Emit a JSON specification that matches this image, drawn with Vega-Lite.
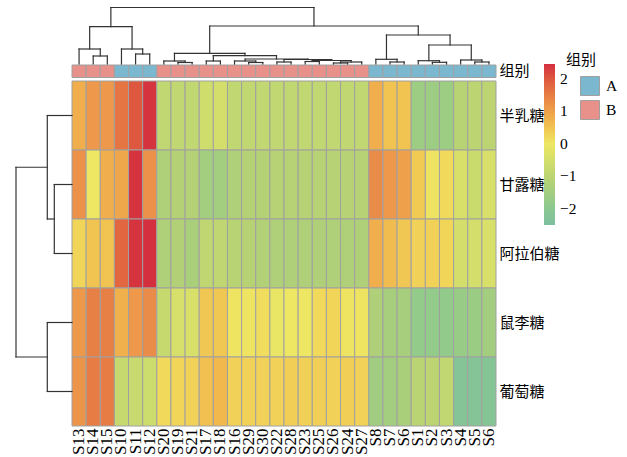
{
  "$schema": "https://vega.github.io/schema/vega-lite/v6.json",
  "width": 424,
  "height": 345,
  "autosize": {"type": "none"},
  "padding": {"left": 72, "top": 81, "right": 131, "bottom": 31},
  "config": {
    "view": {"stroke": null},
    "font": "Liberation Serif",
    "axisX": {"labelFont": "Liberation Serif", "labelFontSize": 17, "labelColor": "#000000"}
  },
  "datasets": {
    "heat": [
      {"sample": "S13", "sugar": "半乳糖", "value": 0.8}, {"sample": "S13", "sugar": "甘露糖", "value": 1.2}, {"sample": "S13", "sugar": "阿拉伯糖", "value": 0.25}, {"sample": "S13", "sugar": "鼠李糖", "value": 1.1}, {"sample": "S13", "sugar": "葡萄糖", "value": 1.15},
      {"sample": "S14", "sugar": "半乳糖", "value": 1.1}, {"sample": "S14", "sugar": "甘露糖", "value": 0.0}, {"sample": "S14", "sugar": "阿拉伯糖", "value": 0.5}, {"sample": "S14", "sugar": "鼠李糖", "value": 1.45}, {"sample": "S14", "sugar": "葡萄糖", "value": 1.5},
      {"sample": "S15", "sugar": "半乳糖", "value": 1.1}, {"sample": "S15", "sugar": "甘露糖", "value": 0.8}, {"sample": "S15", "sugar": "阿拉伯糖", "value": 0.5}, {"sample": "S15", "sugar": "鼠李糖", "value": 1.45}, {"sample": "S15", "sugar": "葡萄糖", "value": 1.5},
      {"sample": "S10", "sugar": "半乳糖", "value": 1.6}, {"sample": "S10", "sugar": "甘露糖", "value": 0.9}, {"sample": "S10", "sugar": "阿拉伯糖", "value": 1.8}, {"sample": "S10", "sugar": "鼠李糖", "value": 0.75}, {"sample": "S10", "sugar": "葡萄糖", "value": -0.8},
      {"sample": "S11", "sugar": "半乳糖", "value": 2.0}, {"sample": "S11", "sugar": "甘露糖", "value": 2.4}, {"sample": "S11", "sugar": "阿拉伯糖", "value": 2.4}, {"sample": "S11", "sugar": "鼠李糖", "value": 1.1}, {"sample": "S11", "sugar": "葡萄糖", "value": -0.75},
      {"sample": "S12", "sugar": "半乳糖", "value": 2.4}, {"sample": "S12", "sugar": "甘露糖", "value": 1.2}, {"sample": "S12", "sugar": "阿拉伯糖", "value": 2.45}, {"sample": "S12", "sugar": "鼠李糖", "value": 1.3}, {"sample": "S12", "sugar": "葡萄糖", "value": -0.65},
      {"sample": "S20", "sugar": "半乳糖", "value": -0.9}, {"sample": "S20", "sugar": "甘露糖", "value": -1.3}, {"sample": "S20", "sugar": "阿拉伯糖", "value": -1.3}, {"sample": "S20", "sugar": "鼠李糖", "value": -0.8}, {"sample": "S20", "sugar": "葡萄糖", "value": 0.2},
      {"sample": "S19", "sugar": "半乳糖", "value": -0.9}, {"sample": "S19", "sugar": "甘露糖", "value": -1.2}, {"sample": "S19", "sugar": "阿拉伯糖", "value": -1.25}, {"sample": "S19", "sugar": "鼠李糖", "value": -0.45}, {"sample": "S19", "sugar": "葡萄糖", "value": 0.25},
      {"sample": "S21", "sugar": "半乳糖", "value": -0.9}, {"sample": "S21", "sugar": "甘露糖", "value": -1.2}, {"sample": "S21", "sugar": "阿拉伯糖", "value": -1.4}, {"sample": "S21", "sugar": "鼠李糖", "value": -0.4}, {"sample": "S21", "sugar": "葡萄糖", "value": 0.3},
      {"sample": "S17", "sugar": "半乳糖", "value": -0.6}, {"sample": "S17", "sugar": "甘露糖", "value": -1.5}, {"sample": "S17", "sugar": "阿拉伯糖", "value": -0.95}, {"sample": "S17", "sugar": "鼠李糖", "value": 0.45}, {"sample": "S17", "sugar": "葡萄糖", "value": 0.55},
      {"sample": "S18", "sugar": "半乳糖", "value": -0.5}, {"sample": "S18", "sugar": "甘露糖", "value": -1.5}, {"sample": "S18", "sugar": "阿拉伯糖", "value": -0.95}, {"sample": "S18", "sugar": "鼠李糖", "value": 0.45}, {"sample": "S18", "sugar": "葡萄糖", "value": 0.65},
      {"sample": "S16", "sugar": "半乳糖", "value": -0.9}, {"sample": "S16", "sugar": "甘露糖", "value": -1.3}, {"sample": "S16", "sugar": "阿拉伯糖", "value": -1.1}, {"sample": "S16", "sugar": "鼠李糖", "value": 0.05}, {"sample": "S16", "sugar": "葡萄糖", "value": 0.3},
      {"sample": "S29", "sugar": "半乳糖", "value": -0.9}, {"sample": "S29", "sugar": "甘露糖", "value": -1.2}, {"sample": "S29", "sugar": "阿拉伯糖", "value": -1.15}, {"sample": "S29", "sugar": "鼠李糖", "value": 0.05}, {"sample": "S29", "sugar": "葡萄糖", "value": 0.3},
      {"sample": "S30", "sugar": "半乳糖", "value": -0.9}, {"sample": "S30", "sugar": "甘露糖", "value": -1.2}, {"sample": "S30", "sugar": "阿拉伯糖", "value": -1.25}, {"sample": "S30", "sugar": "鼠李糖", "value": 0.15}, {"sample": "S30", "sugar": "葡萄糖", "value": 0.3},
      {"sample": "S22", "sugar": "半乳糖", "value": -0.9}, {"sample": "S22", "sugar": "甘露糖", "value": -1.15}, {"sample": "S22", "sugar": "阿拉伯糖", "value": -1.3}, {"sample": "S22", "sugar": "鼠李糖", "value": -0.1}, {"sample": "S22", "sugar": "葡萄糖", "value": 0.3},
      {"sample": "S28", "sugar": "半乳糖", "value": -0.9}, {"sample": "S28", "sugar": "甘露糖", "value": -1.15}, {"sample": "S28", "sugar": "阿拉伯糖", "value": -1.3}, {"sample": "S28", "sugar": "鼠李糖", "value": 0.0}, {"sample": "S28", "sugar": "葡萄糖", "value": 0.35},
      {"sample": "S23", "sugar": "半乳糖", "value": -0.9}, {"sample": "S23", "sugar": "甘露糖", "value": -1.15}, {"sample": "S23", "sugar": "阿拉伯糖", "value": -1.3}, {"sample": "S23", "sugar": "鼠李糖", "value": 0.0}, {"sample": "S23", "sugar": "葡萄糖", "value": 0.32},
      {"sample": "S25", "sugar": "半乳糖", "value": -0.9}, {"sample": "S25", "sugar": "甘露糖", "value": -1.15}, {"sample": "S25", "sugar": "阿拉伯糖", "value": -1.3}, {"sample": "S25", "sugar": "鼠李糖", "value": 0.2}, {"sample": "S25", "sugar": "葡萄糖", "value": 0.35},
      {"sample": "S26", "sugar": "半乳糖", "value": -0.9}, {"sample": "S26", "sugar": "甘露糖", "value": -1.15}, {"sample": "S26", "sugar": "阿拉伯糖", "value": -1.3}, {"sample": "S26", "sugar": "鼠李糖", "value": 0.25}, {"sample": "S26", "sugar": "葡萄糖", "value": 0.3},
      {"sample": "S24", "sugar": "半乳糖", "value": -0.9}, {"sample": "S24", "sugar": "甘露糖", "value": -1.15}, {"sample": "S24", "sugar": "阿拉伯糖", "value": -1.3}, {"sample": "S24", "sugar": "鼠李糖", "value": 0.05}, {"sample": "S24", "sugar": "葡萄糖", "value": 0.35},
      {"sample": "S27", "sugar": "半乳糖", "value": -0.9}, {"sample": "S27", "sugar": "甘露糖", "value": -1.15}, {"sample": "S27", "sugar": "阿拉伯糖", "value": -1.3}, {"sample": "S27", "sugar": "鼠李糖", "value": 0.05}, {"sample": "S27", "sugar": "葡萄糖", "value": 0.3},
      {"sample": "S8", "sugar": "半乳糖", "value": 0.8}, {"sample": "S8", "sugar": "甘露糖", "value": 1.3}, {"sample": "S8", "sugar": "阿拉伯糖", "value": 0.8}, {"sample": "S8", "sugar": "鼠李糖", "value": -1.3}, {"sample": "S8", "sugar": "葡萄糖", "value": -1.55},
      {"sample": "S7", "sugar": "半乳糖", "value": 0.5}, {"sample": "S7", "sugar": "甘露糖", "value": 1.1}, {"sample": "S7", "sugar": "阿拉伯糖", "value": 0.6}, {"sample": "S7", "sugar": "鼠李糖", "value": -1.45}, {"sample": "S7", "sugar": "葡萄糖", "value": -1.5},
      {"sample": "S6", "sugar": "半乳糖", "value": 0.5}, {"sample": "S6", "sugar": "甘露糖", "value": 1.0}, {"sample": "S6", "sugar": "阿拉伯糖", "value": 0.45}, {"sample": "S6", "sugar": "鼠李糖", "value": -1.45}, {"sample": "S6", "sugar": "葡萄糖", "value": -1.4},
      {"sample": "S1", "sugar": "半乳糖", "value": -1.6}, {"sample": "S1", "sugar": "甘露糖", "value": 0.4}, {"sample": "S1", "sugar": "阿拉伯糖", "value": 0.3}, {"sample": "S1", "sugar": "鼠李糖", "value": -1.8}, {"sample": "S1", "sugar": "葡萄糖", "value": -1.05},
      {"sample": "S2", "sugar": "半乳糖", "value": -1.6}, {"sample": "S2", "sugar": "甘露糖", "value": 0.05}, {"sample": "S2", "sugar": "阿拉伯糖", "value": 0.3}, {"sample": "S2", "sugar": "鼠李糖", "value": -1.8}, {"sample": "S2", "sugar": "葡萄糖", "value": -1.0},
      {"sample": "S3", "sugar": "半乳糖", "value": -1.6}, {"sample": "S3", "sugar": "甘露糖", "value": 0.2}, {"sample": "S3", "sugar": "阿拉伯糖", "value": 0.25}, {"sample": "S3", "sugar": "鼠李糖", "value": -1.85}, {"sample": "S3", "sugar": "葡萄糖", "value": -0.9},
      {"sample": "S4", "sugar": "半乳糖", "value": -1.1}, {"sample": "S4", "sugar": "甘露糖", "value": -0.4}, {"sample": "S4", "sugar": "阿拉伯糖", "value": -0.5}, {"sample": "S4", "sugar": "鼠李糖", "value": -1.7}, {"sample": "S4", "sugar": "葡萄糖", "value": -2.2},
      {"sample": "S5", "sugar": "半乳糖", "value": -1.0}, {"sample": "S5", "sugar": "甘露糖", "value": -0.7}, {"sample": "S5", "sugar": "阿拉伯糖", "value": -0.5}, {"sample": "S5", "sugar": "鼠李糖", "value": -1.65}, {"sample": "S5", "sugar": "葡萄糖", "value": -2.2},
      {"sample": "S6_2", "sugar": "半乳糖", "value": -1.0}, {"sample": "S6_2", "sugar": "甘露糖", "value": -0.4}, {"sample": "S6_2", "sugar": "阿拉伯糖", "value": -0.4}, {"sample": "S6_2", "sugar": "鼠李糖", "value": -1.5}, {"sample": "S6_2", "sugar": "葡萄糖", "value": -2.15}
    ],
    "anno": [
      {"sample": "S13", "group": "B"}, {"sample": "S14", "group": "B"}, {"sample": "S15", "group": "B"},
      {"sample": "S10", "group": "A"}, {"sample": "S11", "group": "A"}, {"sample": "S12", "group": "A"},
      {"sample": "S20", "group": "B"}, {"sample": "S19", "group": "B"}, {"sample": "S21", "group": "B"},
      {"sample": "S17", "group": "B"}, {"sample": "S18", "group": "B"}, {"sample": "S16", "group": "B"},
      {"sample": "S29", "group": "B"}, {"sample": "S30", "group": "B"}, {"sample": "S22", "group": "B"},
      {"sample": "S28", "group": "B"}, {"sample": "S23", "group": "B"}, {"sample": "S25", "group": "B"},
      {"sample": "S26", "group": "B"}, {"sample": "S24", "group": "B"}, {"sample": "S27", "group": "B"},
      {"sample": "S8", "group": "A"}, {"sample": "S7", "group": "A"}, {"sample": "S6", "group": "A"},
      {"sample": "S1", "group": "A"}, {"sample": "S2", "group": "A"}, {"sample": "S3", "group": "A"},
      {"sample": "S4", "group": "A"}, {"sample": "S5", "group": "A"}, {"sample": "S6_2", "group": "A"}
    ],
    "coltree": [
      {"lx": 2, "rx": 3, "h": 8, "lh": 0, "rh": 0},
      {"lx": 1, "rx": 2.5, "h": 15, "lh": 0, "rh": 8},
      {"lx": 5, "rx": 6, "h": 10, "lh": 0, "rh": 0},
      {"lx": 4, "rx": 5.5, "h": 15, "lh": 0, "rh": 10},
      {"lx": 1.75, "rx": 4.75, "h": 37.3, "lh": 15, "rh": 15},
      {"lx": 8, "rx": 9, "h": 1.5, "lh": 0, "rh": 0},
      {"lx": 7, "rx": 8.5, "h": 3, "lh": 0, "rh": 1.5},
      {"lx": 10, "rx": 11, "h": 3, "lh": 0, "rh": 0},
      {"lx": 13, "rx": 14, "h": 1.5, "lh": 0, "rh": 0},
      {"lx": 12, "rx": 13.5, "h": 3, "lh": 0, "rh": 1.5},
      {"lx": 15, "rx": 16, "h": 2, "lh": 0, "rh": 0},
      {"lx": 17, "rx": 18, "h": 2.5, "lh": 0, "rh": 0},
      {"lx": 19, "rx": 20, "h": 1, "lh": 0, "rh": 0},
      {"lx": 19.5, "rx": 21, "h": 2, "lh": 1, "rh": 0},
      {"lx": 17.5, "rx": 20.25, "h": 3.5, "lh": 2.5, "rh": 2},
      {"lx": 15.5, "rx": 18.875, "h": 4.5, "lh": 2, "rh": 3.5},
      {"lx": 12.75, "rx": 17.1875, "h": 5, "lh": 3, "rh": 4.5},
      {"lx": 10.5, "rx": 14.96875, "h": 8.3, "lh": 3, "rh": 5},
      {"lx": 7.75, "rx": 12.734375, "h": 10.7, "lh": 3, "rh": 8.3},
      {"lx": 23, "rx": 24, "h": 2, "lh": 0, "rh": 0},
      {"lx": 22, "rx": 23.5, "h": 4.7, "lh": 0, "rh": 2},
      {"lx": 26, "rx": 27, "h": 1.7, "lh": 0, "rh": 0},
      {"lx": 25, "rx": 26.5, "h": 3.3, "lh": 0, "rh": 1.7},
      {"lx": 29, "rx": 30, "h": 2, "lh": 0, "rh": 0},
      {"lx": 28, "rx": 29.5, "h": 4, "lh": 0, "rh": 2},
      {"lx": 25.75, "rx": 28.75, "h": 19, "lh": 3.3, "rh": 4},
      {"lx": 22.75, "rx": 27.25, "h": 29, "lh": 4.7, "rh": 19},
      {"lx": 10.2421875, "rx": 25, "h": 38, "lh": 10.7, "rh": 29},
      {"lx": 3.25, "rx": 17.62109375, "h": 56.5, "lh": 37.3, "rh": 38}
    ],
    "rowtree": [
      {"ly": 2, "ry": 3, "h": 17.7, "lh": 0, "rh": 0},
      {"ly": 1, "ry": 2.5, "h": 24.7, "lh": 0, "rh": 17.7},
      {"ly": 4, "ry": 5, "h": 24.7, "lh": 0, "rh": 0},
      {"ly": 1.75, "ry": 4.5, "h": 56, "lh": 24.7, "rh": 24.7}
    ]
  },
  "resolve": {
    "scale": {"x": "independent", "y": "independent"},
    "axis": {"x": "independent", "y": "independent"}
  },
  "layer": [
    {
      "data": {"name": "heat"},
      "mark": {"type": "rect", "stroke": "#A0A0A0", "strokeWidth": 1},
      "encoding": {
        "x": {
          "field": "sample", "type": "nominal", "sort": null,
          "scale": {"paddingInner": 0, "paddingOuter": 0},
          "axis": {"orient": "bottom", "title": null, "labelAngle": 270, "ticks": false, "domain": false,
                   "labelPadding": 2, "labelFontSize": 17, "labelFont": "Liberation Serif", "labelColor": "#000000",
                   "labelLimit": 0, "labelOverlap": false, "labelBound": false,
                   "labelExpr": "split(datum.label, '_')[0]"}
        },
        "y": {
          "field": "sugar", "type": "nominal", "sort": null,
          "scale": {"paddingInner": 0, "paddingOuter": 0},
          "axis": {"orient": "right", "title": null, "ticks": false, "domain": false, "labelPadding": 3,
                   "labelFontSize": 15, "labelFont": "'Liberation Serif', 'Noto Sans CJK SC'", "labelColor": "#000000"}
        },
        "color": {
          "field": "value", "type": "quantitative",
          "scale": {"domain": [-2.5, -1.25, 0, 1.25, 2.45],
                    "range": ["#7DBF9F", "#B2D076", "#EEE764", "#EA8E4A", "#D42F3F"]},
          "legend": {"orient": "none", "legendX": 472, "legendY": -17, "direction": "vertical", "title": null,
                     "gradientLength": 161, "gradientThickness": 11, "values": [-2, -1, 0, 1, 2],
                     "labelFontSize": 15.5, "labelFont": "Liberation Serif", "labelColor": "#000000",
                     "gradientStrokeWidth": 0, "labelOffset": 5, "padding": 0}
        }
      }
    },
    {
      "data": {"name": "anno"},
      "mark": {"type": "rect", "stroke": "#A0A0A0", "strokeWidth": 1},
      "encoding": {
        "x": {"field": "sample", "type": "nominal", "sort": null,
              "scale": {"paddingInner": 0, "paddingOuter": 0}, "axis": null},
        "y": {"datum": "组别", "type": "nominal",
              "scale": {"range": [-16, -3.5], "paddingInner": 0, "paddingOuter": 0},
              "axis": {"orient": "right", "title": null, "ticks": false, "domain": false, "labelPadding": 3,
                       "labelFontSize": 15, "labelFont": "'Liberation Serif', 'Noto Sans CJK SC'", "labelColor": "#000000"}},
        "fill": {
          "field": "group", "type": "nominal",
          "scale": {"domain": ["A", "B"], "range": ["#7BB8D0", "#E8918B"]},
          "legend": {"orient": "none", "legendX": 494, "legendY": -28, "direction": "vertical", "title": "组别",
                     "titleFontSize": 15, "titleFont": "'Liberation Serif', 'Noto Sans CJK SC'", "titleFontWeight": "normal",
                     "titleColor": "#000000", "titlePadding": 8, "symbolType": "square", "symbolSize": 361,
                     "symbolStrokeColor": "#A0A0A0", "symbolStrokeWidth": 1, "symbolOffset": 14, "rowPadding": 0,
                     "labelFontSize": 15.5, "labelFont": "Liberation Serif", "labelColor": "#000000", "labelOffset": 6,
                     "padding": 0, "symbolOpacity": 1}
        }
      }
    },
    {
      "data": {"name": "coltree"},
      "layer": [
        {
          "mark": {"type": "rule", "stroke": "#333333", "strokeWidth": 1.2, "strokeCap": "square"},
          "encoding": {
            "x": {"field": "lx", "type": "quantitative", "scale": {"domain": [0.5, 30.5], "range": [0, 424], "nice": false, "zero": false}, "axis": null},
            "x2": {"field": "rx"},
            "y": {"field": "h", "type": "quantitative", "scale": {"domain": [0, 56.5], "range": [-17, -73.5], "nice": false, "zero": false}, "axis": null}
          }
        },
        {
          "mark": {"type": "rule", "stroke": "#333333", "strokeWidth": 1.2, "strokeCap": "square"},
          "encoding": {
            "x": {"field": "lx", "type": "quantitative", "axis": null},
            "y": {"field": "lh", "type": "quantitative", "axis": null},
            "y2": {"field": "h"}
          }
        },
        {
          "mark": {"type": "rule", "stroke": "#333333", "strokeWidth": 1.2, "strokeCap": "square"},
          "encoding": {
            "x": {"field": "rx", "type": "quantitative", "axis": null},
            "y": {"field": "rh", "type": "quantitative", "axis": null},
            "y2": {"field": "h"}
          }
        }
      ]
    },
    {
      "data": {"name": "rowtree"},
      "layer": [
        {
          "mark": {"type": "rule", "stroke": "#333333", "strokeWidth": 1.2, "strokeCap": "square"},
          "encoding": {
            "y": {"field": "ly", "type": "quantitative", "scale": {"domain": [0.5, 5.5], "range": [0, 345], "nice": false, "zero": false}, "axis": null},
            "y2": {"field": "ry"},
            "x": {"field": "h", "type": "quantitative", "scale": {"domain": [0, 56], "range": [0, -56], "nice": false, "zero": false}, "axis": null}
          }
        },
        {
          "mark": {"type": "rule", "stroke": "#333333", "strokeWidth": 1.2, "strokeCap": "square"},
          "encoding": {
            "y": {"field": "ly", "type": "quantitative", "axis": null},
            "x": {"field": "lh", "type": "quantitative", "axis": null},
            "x2": {"field": "h"}
          }
        },
        {
          "mark": {"type": "rule", "stroke": "#333333", "strokeWidth": 1.2, "strokeCap": "square"},
          "encoding": {
            "y": {"field": "ry", "type": "quantitative", "axis": null},
            "x": {"field": "rh", "type": "quantitative", "axis": null},
            "x2": {"field": "h"}
          }
        }
      ]
    }
  ]
}
